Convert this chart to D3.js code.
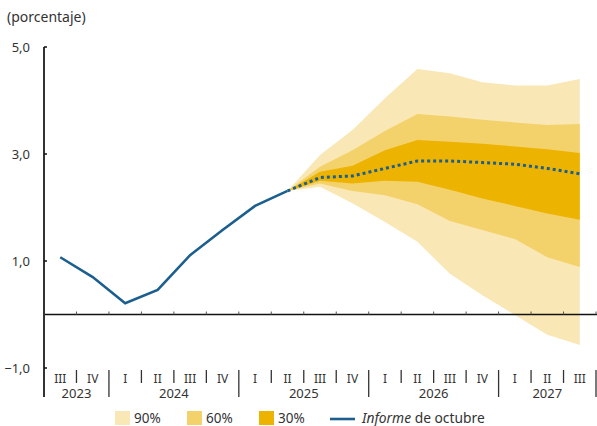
<!DOCTYPE html>
<html>
<head>
<meta charset="utf-8">
<script src="https://cdn.jsdelivr.net/npm/d3@7"></script>
<style>
  body { margin: 0; background: #fff; }
  svg text { font-family: "Noto Sans", "Open Sans", sans-serif; fill: #333; }
</style>
</head>
<body>
<svg id="chart" width="597" height="426"></svg>
<script>
// Quarters on the x axis
const quarters = ["III", "IV", "I", "II", "III", "IV", "I", "II", "III", "IV", "I", "II", "III", "IV", "I", "II", "III"];
const years = [
  { label: "2023", start: 0, end: 2 },
  { label: "2024", start: 2, end: 6 },
  { label: "2025", start: 6, end: 10 },
  { label: "2026", start: 10, end: 14 },
  { label: "2027", start: 14, end: 17 }
];

// Observed series (2023 III - 2025 II)
const observed = [1.07, 0.70, 0.21, 0.46, 1.11, 1.58, 2.03, 2.31];

// Projection (2025 II - 2027 III), index 7 onwards
const projStart = 7;
const projection = [2.31, 2.56, 2.59, 2.73, 2.87, 2.87, 2.84, 2.81, 2.73, 2.63];
const upper90 = [2.31, 2.98, 3.45, 4.04, 4.59, 4.51, 4.34, 4.28, 4.28, 4.40];
const upper60 = [2.31, 2.76, 3.07, 3.43, 3.75, 3.70, 3.64, 3.59, 3.54, 3.56];
const upper30 = [2.31, 2.67, 2.78, 3.07, 3.26, 3.23, 3.19, 3.14, 3.09, 3.02];
const lower30 = [2.31, 2.50, 2.45, 2.50, 2.48, 2.33, 2.17, 2.03, 1.89, 1.77];
const lower60 = [2.31, 2.45, 2.31, 2.23, 2.06, 1.75, 1.58, 1.41, 1.07, 0.89];
const lower90 = [2.31, 2.39, 2.08, 1.73, 1.36, 0.76, 0.36, -0.01, -0.38, -0.57];

const yTicks = [-1, 1, 3, 5];

const colors = { c90: "#f9e7b5", c60: "#f4d26b", c30: "#edb301", line: "#1c5f8e" };

const svg = d3.select("#chart");

const x = d3.scaleLinear().domain([0, quarters.length]).range([44, 596]);
const xc = i => x(i + 0.5);
const y = d3.scaleLinear().domain([-1, 5]).range([368, 47]);

// Fan bands
function band(lo, hi, color) {
  const area = d3.area()
    .x((d, i) => xc(projStart + i))
    .y0((d, i) => y(lo[i]))
    .y1((d, i) => y(hi[i]));
  svg.append("path").datum(lo).attr("d", area).attr("fill", color);
}
band(lower90, upper90, colors.c90);
band(lower60, upper60, colors.c60);
band(lower30, upper30, colors.c30);

// Zero line with small ticks
svg.append("line")
  .attr("x1", 44).attr("x2", 597)
  .attr("y1", y(0)).attr("y2", y(0))
  .attr("stroke", "#111").attr("stroke-width", 1.5);
svg.selectAll(".ztick")
  .data(d3.range(1, quarters.length + 1))
  .join("line")
  .attr("x1", d => x(d)).attr("x2", d => x(d))
  .attr("y1", y(0)).attr("y2", y(0) - 3)
  .attr("stroke", "#555").attr("stroke-width", 1);

// Y axis
svg.append("line")
  .attr("x1", 44).attr("x2", 44)
  .attr("y1", y(5)).attr("y2", 397)
  .attr("stroke", "#333").attr("stroke-width", 2);
svg.selectAll(".ytick")
  .data(yTicks)
  .join("line")
  .attr("x1", 44).attr("x2", 47)
  .attr("y1", d => y(d)).attr("y2", d => y(d))
  .attr("stroke", "#111").attr("stroke-width", 1.5);
svg.selectAll(".ylab")
  .data(yTicks)
  .join("text")
  .attr("x", 30)
  .attr("y", d => y(d))
  .attr("dy", "0.35em")
  .attr("text-anchor", "end")
  .attr("font-size", 13)
  .text(d => d3.format(".1f")(d).replace(".", ","));

svg.append("text")
  .attr("x", 7).attr("y", 22)
  .attr("font-size", 14)
  .text("(porcentaje)");

// X axis labels and separators
const yearBounds = new Set(years.flatMap(d => [d.start, d.end]));
svg.selectAll(".xsep")
  .data(d3.range(0, quarters.length + 1))
  .join("line")
  .attr("x1", d => x(d)).attr("x2", d => x(d))
  .attr("y1", 370)
  .attr("y2", d => yearBounds.has(d) ? 397 : 383)
  .attr("stroke", "#333").attr("stroke-width", 1.3);
svg.selectAll(".qlab")
  .data(quarters)
  .join("text")
  .attr("x", (d, i) => xc(i))
  .attr("y", 382.5)
  .attr("text-anchor", "middle")
  .attr("font-size", 12)
  .text(d => d);
svg.selectAll(".yrlab")
  .data(years)
  .join("text")
  .attr("x", d => (x(d.start) + x(d.end)) / 2)
  .attr("y", 398)
  .attr("text-anchor", "middle")
  .attr("font-size", 13)
  .text(d => d.label);

// Observed line
const line = d3.line().x(d => d[0]).y(d => d[1]);
svg.append("path")
  .datum(observed.map((v, i) => [xc(i), y(v)]))
  .attr("d", line)
  .attr("fill", "none")
  .attr("stroke", colors.line)
  .attr("stroke-width", 2.6);

// Projection dotted line
svg.append("path")
  .datum(projection.map((v, i) => [xc(projStart + i), y(v)]))
  .attr("d", line)
  .attr("fill", "none")
  .attr("stroke", colors.line)
  .attr("stroke-width", 3)
  .attr("stroke-dasharray", "3,3");

// Legend
const legend = [
  { label: "90%", color: colors.c90, x: 115 },
  { label: "60%", color: colors.c60, x: 187 },
  { label: "30%", color: colors.c30, x: 259 }
];
svg.selectAll(".lgbox")
  .data(legend)
  .join("rect")
  .attr("x", d => d.x).attr("y", 411)
  .attr("width", 15).attr("height", 14)
  .attr("fill", d => d.color);
svg.selectAll(".lgtext")
  .data(legend)
  .join("text")
  .attr("x", d => d.x + 19).attr("y", 422.5)
  .attr("font-size", 13.5)
  .text(d => d.label);
svg.append("line")
  .attr("x1", 330).attr("x2", 355)
  .attr("y1", 419).attr("y2", 419)
  .attr("stroke", colors.line).attr("stroke-width", 2.6);
const lt = svg.append("text")
  .attr("x", 362).attr("y", 422.5)
  .attr("font-size", 13.8);
lt.append("tspan").attr("font-style", "italic").text("Informe");
lt.append("tspan").text(" de octubre");
</script>
</body>
</html>
